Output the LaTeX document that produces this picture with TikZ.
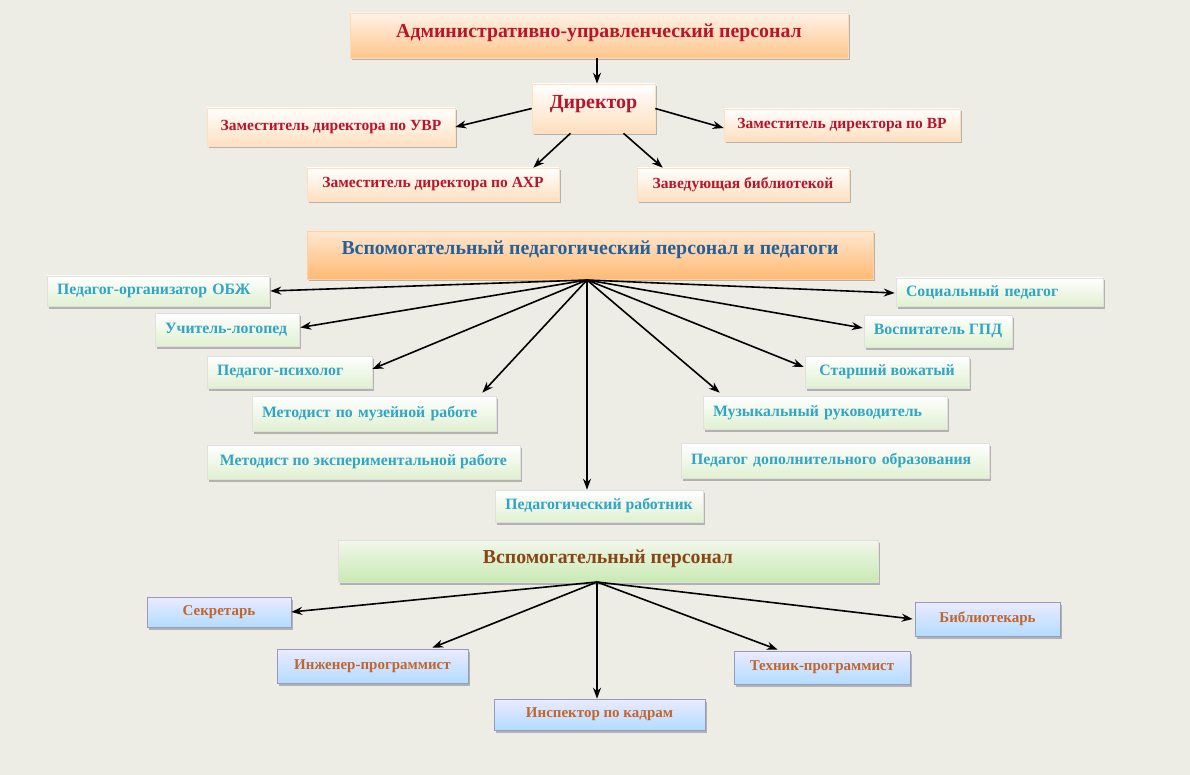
\documentclass[tikz,border=0pt]{standalone}
\usepackage{fontspec}
\setmainfont{Liberation Serif}
\usetikzlibrary{arrows.meta, shadows}
\definecolor{bgcol}{HTML}{EDECE5}
\definecolor{admred}{HTML}{B8142A}
\definecolor{pedblue}{HTML}{24609A}
\definecolor{pedcyan}{HTML}{2FA6C6}
\definecolor{auxbrown}{HTML}{8A4516}
\definecolor{auxorange}{HTML}{C2652C}
\begin{document}
\begin{tikzpicture}[x=1pt, y=-1pt, font=\bfseries,
    wh/.style 2 args={minimum width=#1pt, minimum height=#2pt},
    pl/.style 2 args={text width=#1pt, minimum height=#2pt, inner xsep=10pt, align=left},
    box/.style={rectangle, inner sep=0pt, line width=0.6pt, drop shadow={shadow xshift=2pt, shadow yshift=-2.5pt, fill=black!45, opacity=0.6}},
    admhead/.style={box, draw=orange!30, top color=orange!10!white, bottom color=orange!45!white, text=admred, text depth=9pt, font=\bfseries\fontsize{19.8}{22}\selectfont},
    admbox/.style={box, draw=orange!25, top color=white, bottom color=orange!25!white, text=admred, font=\bfseries\fontsize{15.5}{18}\selectfont},
    pedhead/.style={box, draw=orange!35, top color=orange!18!white, bottom color=orange!55!white, text=pedblue, text depth=14pt, font=\bfseries\fontsize{19.8}{22}\selectfont},
    pedbox/.style={box, draw=black!12, top color=white, bottom color=green!35!olive!18!white, text=pedcyan, font=\bfseries\fontsize{15.8}{18}\selectfont},
    auxhead/.style={box, draw=black!12, top color=green!20!olive!8!white, bottom color=green!45!olive!30!white, text=auxbrown, text depth=9pt, font=\bfseries\fontsize{19.8}{22}\selectfont},
    auxbox/.style={box, draw=blue!35!black!40, top color=blue!8!white, bottom color=blue!45!cyan!30!white, text=auxorange, font=\bfseries\fontsize{15}{18}\selectfont},
    arr/.style={->, >={Stealth[length=11pt, width=8pt]}, line width=1.6pt}]
    \fill [bgcol] (0,0) rectangle (1190,775);
    \useasboundingbox (0,0) rectangle (1190,775);

    \node (admin) at (599,35.5) [admhead, wh={498}{45}] {Административно-управленческий персонал};
    \node (dir) at (593.5,108.5) [admbox, wh={123}{49}, text depth=14pt, font=\bfseries\fontsize{20}{24}\selectfont] {Директор};
    \node (uvr) at (331,127) [admbox, wh={248}{38}] {Заместитель директора по УВР};
    \node (vr) at (842,125) [admbox, wh={236}{32}] {Заместитель директора по ВР};
    \node (ahr) at (433,184.5) [admbox, wh={252}{33}] {Заместитель директора по АХР};
    \node (bibzav) at (743,184.5) [admbox, wh={212}{33}] {Заведующая библиотекой};
    \draw [arr] (admin.south -| 597,0) -- (dir.north -| 597,0);
    \draw [arr] (dir.west) -- (uvr.east);
    \draw [arr] (dir.east) -- ([yshift=-3pt]vr.west);
    \draw [arr] ([xshift=-23pt]dir.south) -- ([xshift=-26pt]ahr.north east);
    \draw [arr] ([xshift=30pt]dir.south) -- ([xshift=26pt]bibzav.north west);

    \node (ped) at (590,255) [pedhead, wh={566}{48}] {Вспомогательный педагогический персонал и педагоги};
    \coordinate (pedhub) at (587,280);
    \node (obzh) at (158,291) [pedbox, pl={202}{30}] {Педагог-организатор ОБЖ};
    \node (logo) at (227,329.5) [pedbox, pl={124}{33}] {Учитель-логопед};
    \node (psy) at (289.5,372) [pedbox, pl={145}{32}] {Педагог-психолог};
    \node (muz) at (374,413.5) [pedbox, pl={224}{35}] {Методист по музейной работе};
    \node (exper) at (363.5,462) [pedbox, wh={313}{34}] {Методист по экспериментальной работе};
    \node (rab) at (599,506) [pedbox, wh={208}{32}] {Педагогический работник};
    \node (soc) at (999.5,292) [pedbox, pl={187}{28}] {Социальный педагог};
    \node (gpd) at (938,331) [pedbox, wh={148}{32}] {Воспитатель ГПД};
    \node (vozh) at (887,372) [pedbox, wh={164}{32}] {Старший вожатый};
    \node (muzruk) at (825,412.5) [pedbox, pl={224}{33}] {Музыкальный руководитель};
    \node (dop) at (835,460.5) [pedbox, pl={288}{35}] {Педагог дополнительного образования};
    \draw [arr] (pedhub) -- ([xshift=1pt]obzh.east);
    \draw [arr] (pedhub) -- ([xshift=1pt, yshift=2pt]logo.east);
    \draw [arr] (pedhub) -- ([yshift=3pt]psy.east);
    \draw [arr] (pedhub) -- ([xshift=-14pt, yshift=3pt]muz.north east);
    \draw [arr] (pedhub) -- (rab.north -| pedhub);
    \draw [arr] (pedhub) -- ([xshift=-1pt, yshift=-1pt]soc.west);
    \draw [arr] (pedhub) -- ([xshift=-1pt, yshift=3pt]gpd.west);
    \draw [arr] (pedhub) -- ([xshift=-1pt, yshift=5pt]vozh.west);
    \draw [arr] (pedhub) -- ([xshift=17pt, yshift=3pt]muzruk.north west);

    \node (aux) at (608,561) [auxhead, wh={540}{42}] {Вспомогательный персонал};
    \coordinate (auxhub) at (597,582);
    \node (sec) at (219,612) [auxbox, wh={144}{30}] {Секретарь};
    \node (ing) at (372.5,666) [auxbox, wh={191}{34}] {Инженер-программист};
    \node (insp) at (599.5,714.5) [auxbox, wh={211}{31}] {Инспектор по кадрам};
    \node (tech) at (822,667.5) [auxbox, wh={176}{33}] {Техник-программист};
    \node (bibl) at (987.5,619) [auxbox, wh={145}{34}] {Библиотекарь};
    \draw [arr] (auxhub) -- (sec.east);
    \draw [arr] (auxhub) -- ([xshift=-36pt, yshift=1pt]ing.north east);
    \draw [arr] (auxhub) -- (insp.north -| auxhub);
    \draw [arr] (auxhub) -- ([xshift=44pt, yshift=1pt]tech.north west);
    \draw [arr] (auxhub) -- ([xshift=-2pt]bibl.west);
\end{tikzpicture}
\end{document}
